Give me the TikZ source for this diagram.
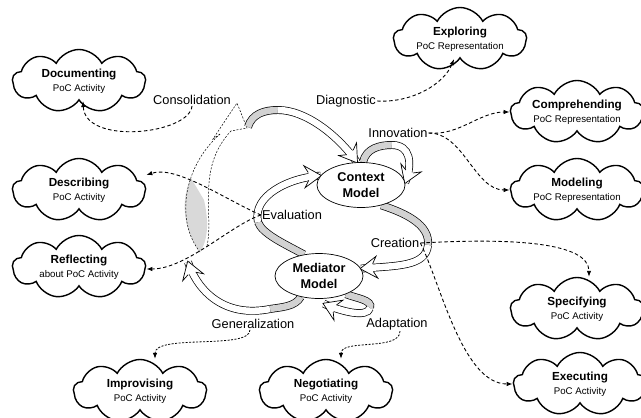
\documentclass[tikz,border=0pt]{standalone}
\usepackage{fontspec}
\setmainfont{Liberation Sans}
\usetikzlibrary{shapes.geometric,shapes.symbols,decorations.markings,arrows.meta}
\pgfdeclarelayer{background}
\pgfsetlayers{background,main}
\newcommand{\cloudtitle}[1]{{\fontsize{11.7}{14}\selectfont\bfseries #1}}

\begin{document}
\begin{tikzpicture}[x=1pt, y=-1pt, >={Latex[length=6pt,width=4.5pt]},
   cloudbox/.style={cloud, cloud puffs=9, cloud puff arc=125, cloud ignores aspect, draw, line width=1.4pt,
     minimum width=133pt, minimum height=63pt, inner sep=0pt, align=center, font=\fontsize{9.7}{14}\selectfont},
   modelbox/.style={ellipse, draw, fill=white, line width=0.7pt, minimum width=88pt, minimum height=45pt,
     inner sep=0pt, align=center, font=\fontsize{12.7}{16}\selectfont\bfseries},
   tag/.style={inner sep=1pt, font=\fontsize{12.8}{15}\selectfont},
   link/.style={->, line width=0.9pt, dash pattern=on 3.5pt off 2.5pt},
   finelink/.style={->, line width=0.8pt, dash pattern=on 2pt off 1.5pt},
   ribbon/.style={line width=0.7pt, double=white, double distance=6.5pt},
   backside/.style={ribbon, double=gray!35},
   ghost/.style={line width=0.5pt, dash pattern=on 2pt off 1.5pt},
   headmark/.style={decorate, decoration={markings, mark=at position 0.999 with {
       \fill[white] (1pt,0pt) -- (-16pt,11pt) -- (-12pt,3.95pt) -- (-12pt,-3.95pt) -- (-16pt,-11pt) -- cycle;
       \draw[line width=0.7pt, line join=miter] (-12pt,3.95pt) -- (-16pt,11pt) -- (1pt,0pt) -- (-16pt,-11pt) -- (-12pt,-3.95pt);
     }}}
   ]
   \useasboundingbox (0,0) rectangle (641,418);

   % clouds
   \path (79,81) node[cloudbox] (doc) {\cloudtitle{Documenting}\\PoC Activity}
   (79,190) node[cloudbox] (desc) {\cloudtitle{Describing}\\PoC Activity}
   (79,267) node[cloudbox] (refl) {\cloudtitle{Reflecting}\\about PoC Activity};
   \path (460,39) node[cloudbox] (expl) {\cloudtitle{Exploring}\\PoC Representation}
   (577,112) node[cloudbox] (comp) {\cloudtitle{Comprehending}\\PoC Representation}
   (577,190) node[cloudbox] (model) {\cloudtitle{Modeling}\\PoC Representation};
   \path (577,309) node[cloudbox] (spec) {\cloudtitle{Specifying}\\PoC Activity}
   (580,384) node[cloudbox] (exec) {\cloudtitle{Executing}\\PoC Activity};
   \path (140,391) node[cloudbox] (impr) {\cloudtitle{Improvising}\\PoC Activity}
   (326,391) node[cloudbox] (nego) {\cloudtitle{Negotiating}\\PoC Activity};

   % models
   \path (361,185) node[modelbox] (ctx) {Context\\Model}
   (319,276) node[modelbox] (med) {Mediator\\Model};

   % labels
   \path (192,100) node[tag] (consol) {Consolidation}
   (346,101) node[tag] (diag) {Diagnostic}
   (398,133) node[tag] (innov) {Innovation}
   (292,215) node[tag] (eval) {Evaluation}
   (395,243) node[tag] (creat) {Creation}
   (253,324) node[tag] (gen) {Generalization}
   (397,324) node[tag] (adapt) {Adaptation};

   \coordinate (diagtail) at (248,127);
   \coordinate (gentip) at (188,262);

   \begin{pgfonlayer}{background}
   % consolidation ghost
   \fill[gray!30] (200,252) .. controls (182,228) and (181,198) .. (191,178) -- (204,200) .. controls (209,222) and (208,240) .. (200,252);
   \draw[ghost] (200,252) .. controls (176,222) and (182,168) .. (220,134);
   \draw[ghost] (207,246) .. controls (214,215) and (196,168) .. (231,131);
   \draw[ghost] (220,134) -- (213,139) -- (237,103) -- (247,128) -- (231,131);

   % diagnostic
   \draw[backside] (diagtail) .. controls +(4,-13) and +(-14,0) .. (278,110);
   \draw[ribbon] (278,110) .. controls +(27,0) and +(-20,-28) .. (ctx.100);
   \path[headmark] (278,110) .. controls +(27,0) and +(-20,-28) .. (ctx.100);
   % innovation
   \draw[backside] (ctx.85) .. controls +(3,-14) and +(-12,0) .. (392,145);
   \draw[ribbon] (392,145) .. controls +(18,0) and +(8,-20) .. (ctx.3);
   \path[headmark] (392,145) .. controls +(18,0) and +(8,-20) .. (ctx.3);
   % creation
   \draw[backside] (ctx.-45) .. controls +(25,8) and +(2,-20) .. (428,245);
   \draw[ribbon] (428,245) .. controls +(-2,22) and +(35,-3) .. (med.10);
   \path[headmark] (428,245) .. controls +(-2,22) and +(35,-3) .. (med.10);
   % adaptation
   \draw[backside] (med.-34) .. controls +(10,4) and +(3,-8) .. (370,308);
   \draw[ribbon] (370,308) .. controls +(-3,10) and +(18,8) .. ([yshift=-5pt]med.-78);
   \path[headmark] (370,308) .. controls +(-3,10) and +(18,8) .. ([yshift=-5pt]med.-78);
   % evaluation
   \draw[backside] (med.125) .. controls +(-18,-10) and +(4,12) .. (258,222);
   \draw[ribbon] (258,222) .. controls +(-6,-26) and +(-32,2) .. (ctx.167);
   \path[headmark] (258,222) .. controls +(-6,-26) and +(-32,2) .. (ctx.167);
   % generalization
   \draw[backside] (med.-131) .. controls +(-6,10) and +(12,-2) .. (270,309);
   \draw[ribbon] (270,309) .. controls +(-45,9) and +(10,30) .. (gentip);
   \path[headmark] (270,309) .. controls +(-45,9) and +(10,30) .. (gentip);
   \end{pgfonlayer}

   % links to the clouds
   \draw[link] (consol.south) .. controls +(-2,28) and +(2,45) .. ([xshift=4pt]doc.south);
   \draw[link] (diag.east) .. controls +(35,2) and +(-10,25) .. ([xshift=-6pt]expl.south);
   \draw[link] (innov.east) .. controls +(30,3) and +(-30,0) .. (comp.west);
   \draw[link] (innov.east) .. controls +(35,0) and +(-35,0) .. (model.west);
   \draw[link] (creat.east) .. controls +(90,-5) and +(0,-35) .. ([xshift=12pt]spec.north);
   \draw[link] (creat.east) .. controls +(20,40) and +(-50,0) .. (exec.west);
   \draw[link] (eval.west) .. controls +(-35,-15) and +(30,-10) .. ([yshift=15pt]desc.east);
   \draw[link] (eval.west) .. controls +(-30,10) and +(40,0) .. ([yshift=-2pt]refl.east);
   \draw[finelink] ([xshift=-3pt]gen.south) .. controls +(0,20) and +(0,-25) .. ([xshift=15pt]impr.north);
   \draw[finelink] ([xshift=3pt]adapt.south) .. controls +(0,20) and +(0,-20) .. ([xshift=15pt]nego.north);
\end{tikzpicture}
\end{document}
